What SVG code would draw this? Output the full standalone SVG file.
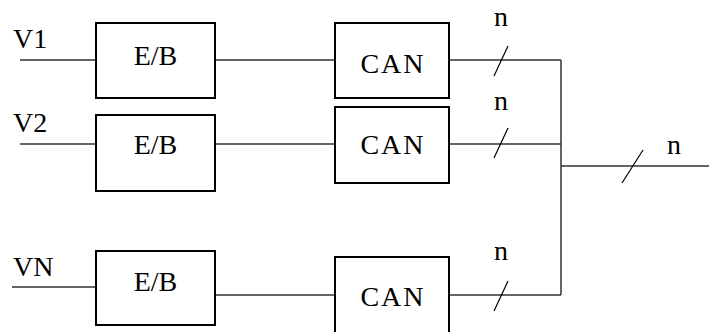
<svg xmlns="http://www.w3.org/2000/svg" width="709" height="332" viewBox="0 0 709 332">
<style>
.box{fill:#fff;stroke:#000;stroke-width:2}
.ln{stroke:#333;stroke-width:1.5;fill:none}
.sl{stroke:#000;stroke-width:1.2;fill:none}
text{font-family:"Liberation Serif","Times New Roman",serif;font-size:28px;fill:#000}
.c{text-anchor:middle}
.can{letter-spacing:2px}
</style>
<rect width="709" height="332" fill="#fff"/>
<g id="connectors">
<path class="ln" d="M20 60H96M215 60H335M449 60H561M20 144H96M215 144H335M449 144H561M12 287H96M215 295H335M449 295H561M561 60V295M561 166H709"/>
<path class="sl" d="M508 46L494 76M508 128L494 158M508 281L494 311M643 150L622 183"/>
</g>
<g id="labels">
<text x="13" y="48">V1</text>
<text x="13" y="132">V2</text>
<text x="13" y="276">VN</text>
<text x="501" y="26" class="c">n</text>
<text x="501" y="110" class="c">n</text>
<text x="501" y="260" class="c">n</text>
<text x="674" y="154" class="c">n</text>
</g>
<g id="eb1"><rect class="box" x="96" y="23" width="119" height="75"/><text x="155.5" y="65" class="c">E/B</text></g>
<g id="eb2"><rect class="box" x="96" y="115" width="119" height="76"/><text x="155.5" y="154" class="c">E/B</text></g>
<g id="eb3"><rect class="box" x="96" y="251" width="119" height="74"/><text x="155.5" y="291" class="c">E/B</text></g>
<g id="can1"><rect class="box" x="335" y="23" width="114" height="75"/><text x="393" y="73" class="c can">CAN</text></g>
<g id="can2"><rect class="box" x="335" y="107" width="114" height="76"/><text x="393" y="154" class="c can">CAN</text></g>
<g id="can3"><rect class="box" x="335" y="257" width="114" height="80"/><text x="393" y="306" class="c can">CAN</text></g>
</svg>
